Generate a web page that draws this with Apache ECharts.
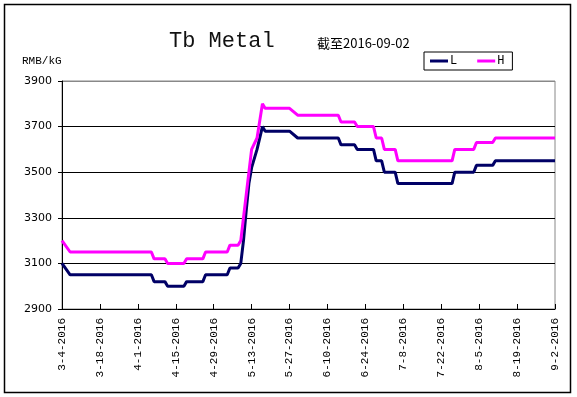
<!DOCTYPE html>
<html>
<head>
<meta charset="utf-8">
<script src="https://cdn.jsdelivr.net/npm/echarts@6/dist/echarts.min.js"></script>
<style>
html,body{margin:0;padding:0;background:#fff;}
#main{width:577px;height:397px;}
</style>
</head>
<body>
<div id="main"></div>
<script>
// 价格数据 (RMB/kG)
var dates = ['2016-03-04','2016-03-07','2016-04-06','2016-04-07','2016-04-11','2016-04-12',
    '2016-04-18','2016-04-19','2016-04-25','2016-04-26','2016-05-04','2016-05-05','2016-05-08',
    '2016-05-09','2016-05-10','2016-05-11','2016-05-12','2016-05-13','2016-05-15','2016-05-17',
    '2016-05-18','2016-05-27','2016-05-30','2016-06-14','2016-06-15','2016-06-20','2016-06-21',
    '2016-06-27','2016-06-28','2016-06-30','2016-07-01','2016-07-05','2016-07-06','2016-07-26',
    '2016-07-27','2016-08-03','2016-08-04','2016-08-10','2016-08-11','2016-09-02'];
var lowVals = [3100,3050,3050,3020,3020,3000,3000,3020,3020,3050,3050,3080,3080,
    3100,3200,3330,3450,3520,3600,3700,3680,3680,3650,3650,3620,3620,3600,
    3600,3550,3550,3500,3500,3450,3450,3500,3500,3530,3530,3550,3550];
var highVals = [3200,3150,3150,3120,3120,3100,3100,3120,3120,3150,3150,3180,3180,
    3200,3300,3400,3500,3600,3650,3800,3780,3780,3750,3750,3720,3720,3700,
    3700,3650,3650,3600,3600,3550,3550,3600,3600,3630,3630,3650,3650];
var startDate = '2016-03-04';
var endDate = '2016-09-02';

var base = Date.UTC(2016, 2, 4);
function dayOf(s){
    var p = s.split('-');
    return (Date.UTC(+p[0], +p[1]-1, +p[2]) - base) / 86400000;
}
function pairs(vals){
    var out = [];
    for (var i = 0; i < dates.length; i++) {
        out.push([dayOf(dates[i]), vals[i]]);
    }
    return out;
}

var myChart = echarts.init(document.getElementById('main'));
var option = {
    animation: false,
    backgroundColor: '#fff',
    title: [
        {text: 'Tb Metal', left: 164, top: 25,
            textStyle: {fontFamily: 'Liberation Mono', fontSize: 22, fontWeight: 'normal', color: '#111'}},
        {text: '截至2016-09-02', left: 312, top: 32,
            textStyle: {fontFamily: 'Noto Sans CJK SC', fontSize: 13, fontWeight: 'normal', color: '#000'}},
        {text: 'RMB/kG', left: 17, top: 51,
            textStyle: {fontFamily: 'Liberation Mono', fontSize: 11, fontWeight: 'normal', color: '#000'}}
    ],
    legend: {
        left: 424, top: 52,
        padding: [3, 8, 3, 6],
        borderColor: '#000', borderWidth: 1, borderRadius: 0,
        itemWidth: 18, itemHeight: 3, itemGap: 20,
        icon: 'rect',
        textStyle: {fontFamily: 'Liberation Mono', fontSize: 12, color: '#000', padding: [0, 0, 0, -3]},
        data: ['L', 'H']
    },
    grid: {left: 62, right: 22, top: 81, bottom: 88, show: true, borderColor: '#888', borderWidth: 1},
    xAxis: {
        type: 'value',
        min: dayOf(startDate), max: dayOf(endDate), interval: 14,
        axisLine: {lineStyle: {color: '#000', width: 1}},
        axisTick: {inside: true, length: 5, lineStyle: {color: '#000'}},
        splitLine: {show: false},
        axisLabel: {
            rotate: 90, margin: 9, color: '#000',
            fontFamily: 'Liberation Mono', fontSize: 11,
            formatter: function(v){
                var d = new Date(base + v * 86400000);
                return (d.getUTCMonth()+1) + '-' + d.getUTCDate() + '-' + d.getUTCFullYear();
            }
        }
    },
    yAxis: {
        type: 'value',
        min: 2900, max: 3900, interval: 200,
        axisLine: {show: true, lineStyle: {color: '#000', width: 1}},
        axisTick: {show: true, length: 4, lineStyle: {color: '#000'}},
        splitLine: {show: true, lineStyle: {color: ['#000', '#000', '#000', '#000', '#000', '#888'], width: 1}},
        axisLabel: {margin: 10, color: '#000', fontFamily: 'DejaVu Sans', fontSize: 11,
            formatter: function(v){ return String(v); }}
    },
    series: [
        {name: 'L', type: 'line', data: pairs(lowVals), showSymbol: false,
            color: '#000066', lineStyle: {width: 3, color: '#000066'}},
        {name: 'H', type: 'line', data: pairs(highVals), showSymbol: false,
            color: '#ff00ff', lineStyle: {width: 3, color: '#ff00ff'}}
    ],
    graphic: [
        {type: 'rect', shape: {x: 4.5, y: 4.5, width: 566, height: 388},
            style: {fill: 'none', stroke: '#000', lineWidth: 1.5}, silent: true}
    ]
};
myChart.setOption(option);
</script>
</body>
</html>
